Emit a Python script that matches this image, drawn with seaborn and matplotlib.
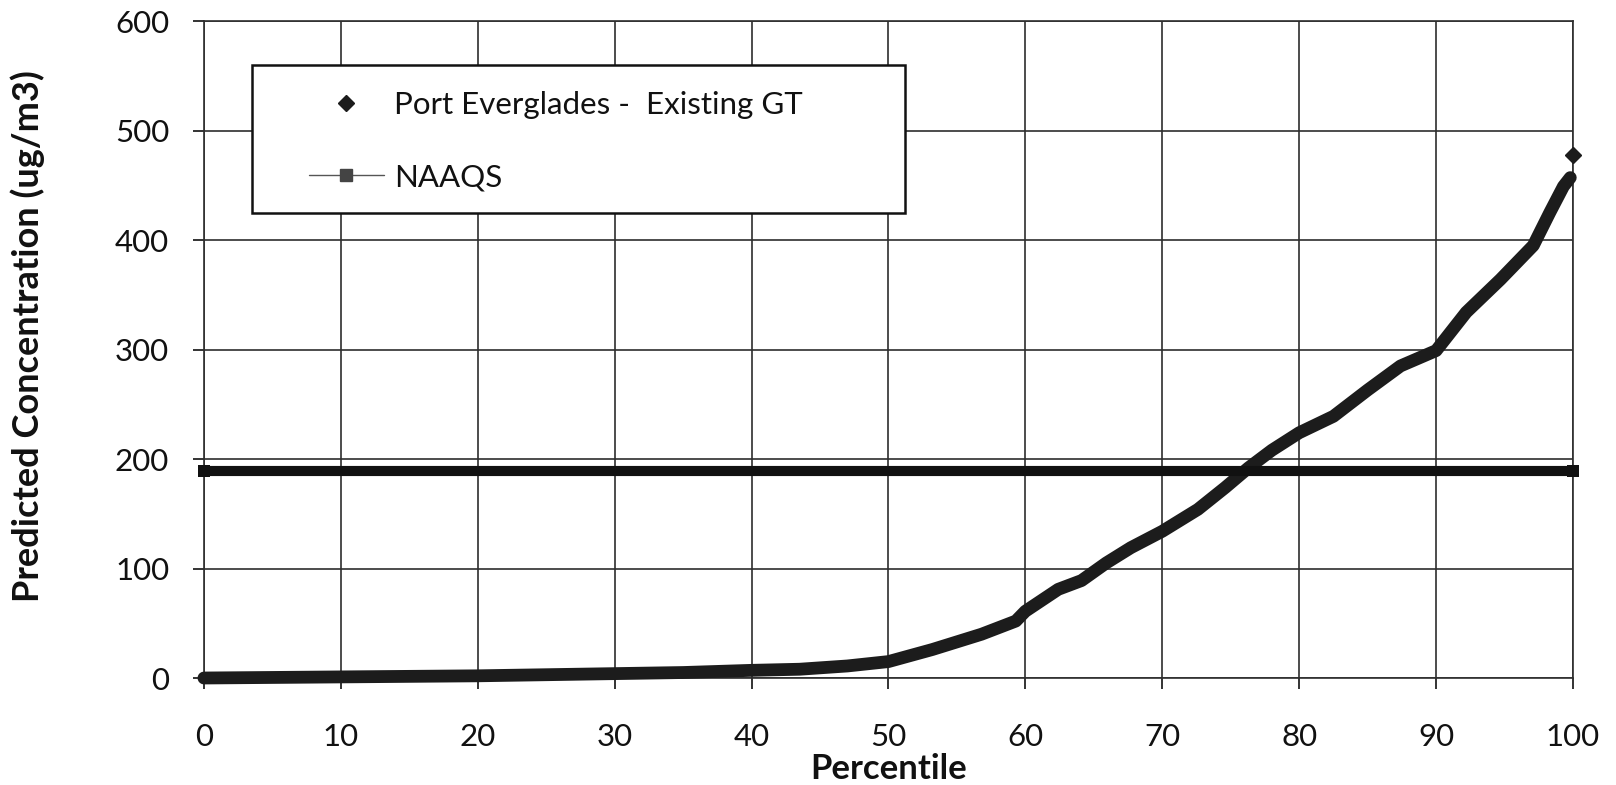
import pandas as pd
import matplotlib
matplotlib.use("Agg")
import matplotlib.pyplot as plt
from matplotlib.lines import Line2D
from matplotlib.patches import Rectangle
import seaborn as sns

# -----------------------------
# Data
# -----------------------------
percentile = [0, 10, 20, 30, 35, 40, 43.5, 47, 50, 53.2, 56.8, 59.3, 60, 62.4, 64.1,
              65.9, 67.7, 70, 72.6, 74.6, 76.3, 78, 80, 82.5, 85, 87.4, 90, 92.2,
              94.7, 97.1, 98.3, 99.3, 99.8, 100]
concentration = [0, 1, 2, 4, 5, 7, 8, 11, 15, 26, 40, 52, 61, 81, 89,
                 105, 119, 134, 154, 174, 192, 208, 224, 239, 263, 285, 299, 334,
                 364, 395, 425, 449, 457, 478]

naaqs_x = [0, 100]
naaqs_y = [189, 189]

series_label = "Port Everglades -  Existing GT"
naaqs_label = "NAAQS"
x_ticks = list(range(0, 101, 10))
y_ticks = list(range(0, 601, 100))

df = pd.DataFrame({"percentile": percentile, "conc": concentration})
df_naaqs = pd.DataFrame({"percentile": naaqs_x, "conc": naaqs_y})

# -----------------------------
# Style
# -----------------------------
sns.set_theme(style="whitegrid")
plt.rcParams["font.family"] = ["Lato", "DejaVu Sans"]
FS = 22.5      # ticks / legend
FS_LAB = 26    # axis titles
GRID = "#2e2e2e"
INK = "#1c1c1c"

fig, ax = plt.subplots(figsize=(16.16, 7.85), dpi=100)
fig.subplots_adjust(left=0.1262, right=0.9734, top=0.9732, bottom=0.1363)

# distribution curve (all but the max point as a heavy line)
sns.lineplot(data=df.iloc[:-1], x="percentile", y="conc", ax=ax, sort=False,
             color=INK, lw=9.2, solid_capstyle="round", zorder=3, clip_on=False)
# max point
ax.plot(df["percentile"].iloc[-1:], df["conc"].iloc[-1:], ls="none", marker="D",
        ms=8, color=INK, zorder=3, clip_on=False)

# NAAQS line
sns.lineplot(data=df_naaqs, x="percentile", y="conc", ax=ax, color="#111111",
             lw=7.3, marker="s", markersize=9, markeredgewidth=0, zorder=3,
             clip_on=False)

ax.set_xlim(0, 100)
ax.set_ylim(0, 600)
ax.set_xticks(x_ticks)
ax.set_yticks(y_ticks)

ax.grid(True, color=GRID, lw=1.2)
for s in ax.spines.values():
    s.set_color(GRID)
    s.set_linewidth(1.2)
ax.tick_params(axis="both", which="major", labelsize=FS, colors="#111111",
               length=8, width=1.2, direction="out", left=True, bottom=True)
ax.tick_params(axis="x", pad=24.5)
ax.tick_params(axis="y", pad=17)

ax.set_xlabel("Percentile", fontsize=FS_LAB - 1, fontweight="bold", color="#111111")
ax.set_ylabel("Predicted Concentration (ug/m3)", fontsize=FS_LAB, fontweight="bold",
              color="#111111")
ax.xaxis.set_label_coords(0.5, -0.1135)
ax.yaxis.set_label_coords(-0.116, 0.52)

# legend box
box = Rectangle((0.0351, 0.7078), 0.477, 0.2253, transform=ax.transAxes,
                facecolor="white", edgecolor="#111111", lw=1.8, zorder=4)
ax.add_patch(box)

handles = [
    Line2D([], [], ls="none", marker="D", ms=8, color=INK),
    Line2D([], [], ls="-", lw=1, color="#555555", marker="s", ms=8.5,
           markerfacecolor="#444444", markeredgecolor="#444444"),
]
leg = ax.legend(handles, [series_label, naaqs_label], loc="upper left",
                bbox_to_anchor=(0.0767, 0.894), frameon=False, borderpad=0,
                borderaxespad=0, fontsize=FS, handlelength=2.4,
                handletextpad=0.32, labelspacing=1.42)
leg.set_zorder(5)
for t in leg.get_texts():
    t.set_color("#111111")

fig.savefig("out.png", dpi=100)
